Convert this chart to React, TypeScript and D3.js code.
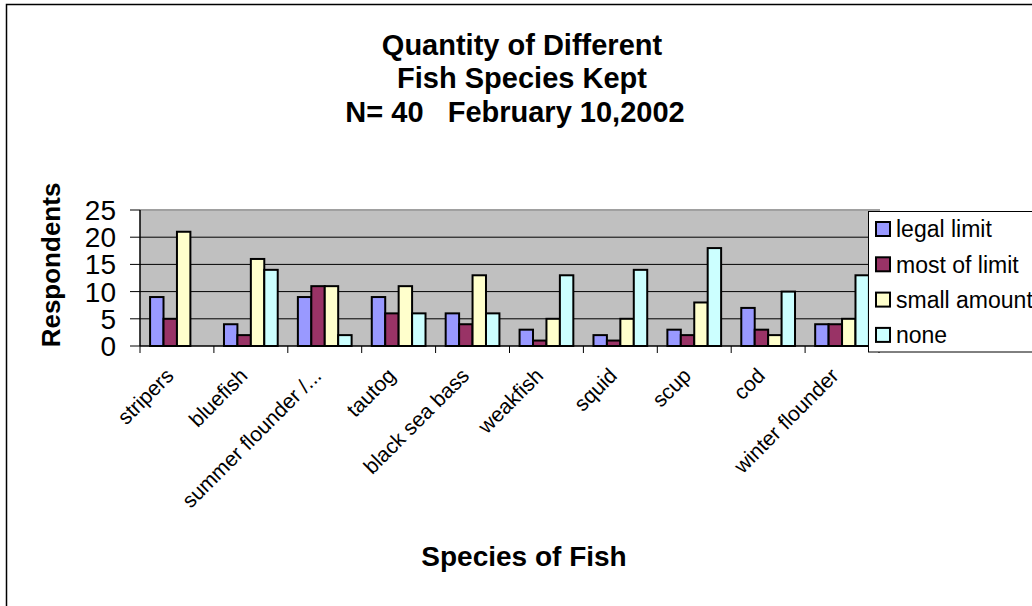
import React from "react";
import * as d3 from "d3";

const categories = [
  "stripers",
  "bluefish",
  "summer flounder /...",
  "tautog",
  "black sea bass",
  "weakfish",
  "squid",
  "scup",
  "cod",
  "winter flounder",
];
const legalLimit = [9, 4, 9, 9, 6, 3, 2, 3, 7, 4];
const mostOfLimit = [5, 2, 11, 6, 4, 1, 1, 2, 3, 4];
const smallAmount = [21, 16, 11, 11, 13, 5, 5, 8, 2, 5];
const none = [0, 14, 2, 6, 6, 13, 14, 18, 10, 13];
const seriesNames = ["legal limit", "most of limit", "small amount", "none"];
const seriesColors = ["#9999FF", "#993366", "#FFFFCC", "#CCFFFF"];
const yTicks = [0, 5, 10, 15, 20, 25];
const titleLines = ["Quantity of Different", "Fish Species Kept", "N= 40   February 10,2002"];

const W = 1032;
const H = 606;
const plot = { left: 140, right: 879, top: 210, bottom: 346 };
const FONT = "Arial, 'Liberation Sans', sans-serif";

export default function App() {
  const series = [legalLimit, mostOfLimit, smallAmount, none];
  const x = d3
    .scaleBand<string>()
    .domain(categories)
    .range([plot.left, plot.right])
    .paddingInner(0)
    .paddingOuter(0);
  const inner = d3
    .scaleBand<number>()
    .domain(d3.range(series.length))
    .range([0, x.bandwidth()])
    .paddingInner(0)
    .paddingOuter(0.75);
  const y = d3.scaleLinear().domain([0, 25]).range([plot.bottom, plot.top]);
  const boundaries = d3.range(categories.length + 1).map((i) => plot.left + i * x.bandwidth());

  return (
    <svg
      width={W}
      height={H}
      style={{ position: "absolute", left: 0, top: 0, background: "#fff" }}
      fontFamily={FONT}
    >
      <rect x={6.5} y={4.5} width={1040} height={640} fill="#fff" stroke="#000" strokeWidth={1.5} />

      {titleLines.map((t, i) => (
        <text
          key={t}
          x={i === 2 ? 515 : 522}
          y={55 + i * 33.3}
          textAnchor="middle"
          fontSize={29}
          fontWeight="bold"
          style={{ whiteSpace: "pre" }}
        >
          {t}
        </text>
      ))}

      {/* plot area */}
      <rect
        x={plot.left}
        y={plot.top}
        width={plot.right - plot.left}
        height={plot.bottom - plot.top}
        fill="#C0C0C0"
      />
      {yTicks
        .filter((v) => v > 0 && v < 25)
        .map((v) => (
          <line key={v} x1={plot.left} x2={plot.right} y1={y(v)} y2={y(v)} stroke="#000" strokeWidth={1} />
        ))}
      <line x1={plot.left} x2={plot.right + 1} y1={plot.top} y2={plot.top} stroke="#A0A0A0" strokeWidth={2} />
      <line x1={plot.right} x2={plot.right} y1={plot.top} y2={plot.bottom} stroke="#A0A0A0" strokeWidth={2} />

      {/* bars */}
      {categories.map((c, ci) =>
        series.map((s, si) => {
          const v = s[ci];
          if (!v) return null;
          const bx = (x(c) as number) + (inner(si) as number);
          return (
            <rect
              key={c + si}
              x={bx}
              y={y(v)}
              width={inner.bandwidth()}
              height={y(0) - y(v)}
              fill={seriesColors[si]}
              stroke="#000"
              strokeWidth={2}
            />
          );
        })
      )}

      {/* axes */}
      <line x1={plot.left} x2={plot.left} y1={plot.top} y2={plot.bottom} stroke="#000" strokeWidth={1.5} />
      <line x1={plot.left} x2={plot.right} y1={plot.bottom} y2={plot.bottom} stroke="#000" strokeWidth={1.5} />
      {yTicks.map((v) => (
        <g key={v}>
          <line x1={plot.left - 10} x2={plot.left} y1={y(v)} y2={y(v)} stroke="#000" strokeWidth={1} />
          <text x={116} y={y(v)} dy="0.36em" textAnchor="end" fontSize={28}>
            {v}
          </text>
        </g>
      ))}
      {boundaries.map((bx, i) => (
        <line key={i} x1={bx} x2={bx} y1={plot.bottom} y2={plot.bottom + 7} stroke="#000" strokeWidth={1} />
      ))}
      {categories.map((c) => {
        const cx = (x(c) as number) + x.bandwidth() / 2;
        return (
          <text
            key={c}
            transform={`translate(${cx - 2},${377}) rotate(-45)`}
            textAnchor="end"
            fontSize={21}
          >
            {c}
          </text>
        );
      })}

      <text
        transform={`translate(${60},${265}) rotate(-90)`}
        textAnchor="middle"
        fontSize={26}
        fontWeight="bold"
      >
        Respondents
      </text>
      <text x={524} y={566} textAnchor="middle" fontSize={28} fontWeight="bold">
        Species of Fish
      </text>

      {/* legend */}
      <rect x={868.5} y={211.5} width={200} height={140.5} fill="#fff" stroke="#000" strokeWidth={1} />
      {seriesNames.map((n, i) => {
        const cy = 229 + i * 35.3;
        return (
          <g key={n}>
            <rect x={876} y={cy - 7} width={14} height={14} fill={seriesColors[i]} stroke="#000" strokeWidth={2} />
            <text x={896} y={cy} dy="0.36em" fontSize={23}>
              {n}
            </text>
          </g>
        );
      })}
    </svg>
  );
}
